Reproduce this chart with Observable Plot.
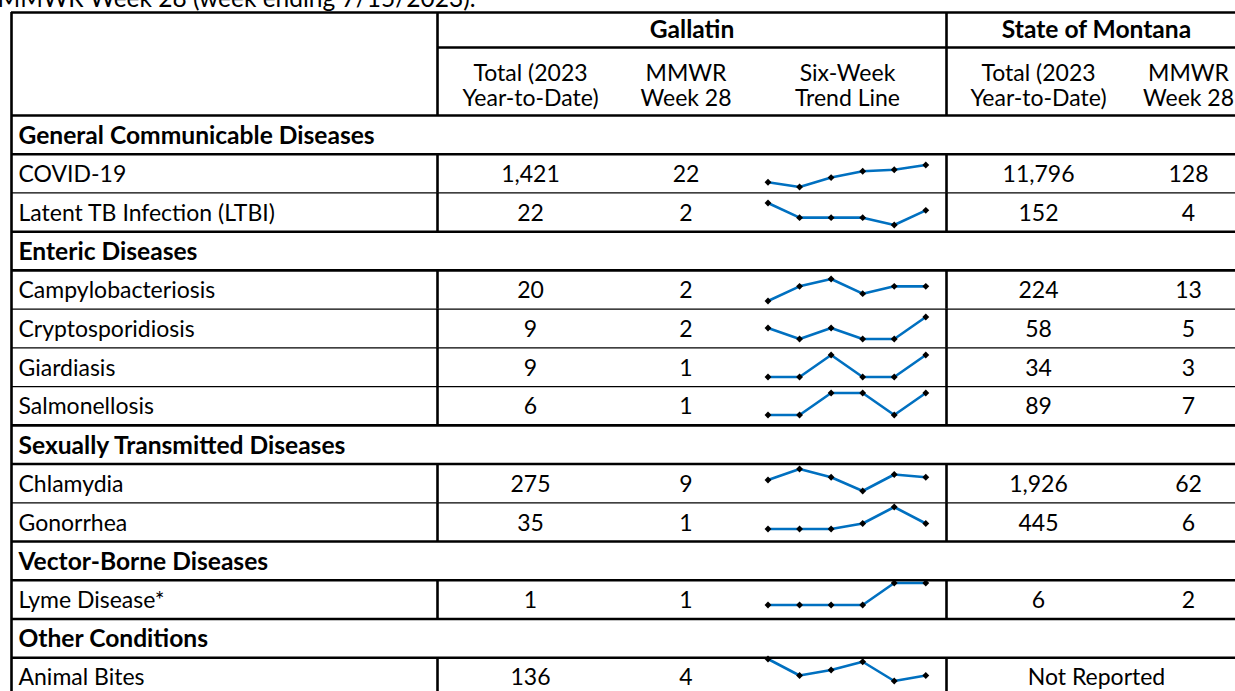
<!DOCTYPE html>
<html>
<head>
<meta charset="utf-8">
<script src="https://cdn.jsdelivr.net/npm/d3@7"></script>
<script src="https://cdn.jsdelivr.net/npm/@observablehq/plot@0.6"></script>
<style>
  html, body { margin: 0; padding: 0; background: #fff; overflow: hidden; }
  #wrap { position: relative; width: 1235px; height: 691px; overflow: hidden; background: #fff; }
  #wrap > svg { position: absolute; margin: 0; overflow: visible; }
</style>
</head>
<body>
<div id="wrap"></div>
<script>
// ---------------- DATA ----------------
const titleText = "MMWR Week 28 (week ending 7/15/2023).";
const regionHeaders = ["Gallatin", "State of Montana"];
const columnHeaders = [
  "Total (2023\nYear-to-Date)",
  "MMWR\nWeek 28",
  "Six-Week\nTrend Line",
  "Total (2023\nYear-to-Date)",
  "MMWR\nWeek 28"
];
const rowLabels = [
  "General Communicable Diseases",
  "COVID-19",
  "Latent TB Infection (LTBI)",
  "Enteric Diseases",
  "Campylobacteriosis",
  "Cryptosporidiosis",
  "Giardiasis",
  "Salmonellosis",
  "Sexually Transmitted Diseases",
  "Chlamydia",
  "Gonorrhea",
  "Vector-Borne Diseases",
  "Lyme Disease*",
  "Other Conditions",
  "Animal Bites"
];
const rowIsCategory = [true, false, false, true, false, false, false, false, true, false, false, true, false, true, false];
const gallatinTotal = [null, 1421, 22, null, 20, 9, 9, 6, null, 275, 35, null, 1, null, 136];
const gallatinWeek  = [null, 22, 2, null, 2, 2, 1, 1, null, 9, 1, null, 1, null, 4];
const montanaTotal  = [null, 11796, 152, null, 224, 58, 34, 89, null, 1926, 445, null, 6, null, null];
const montanaWeek   = [null, 128, 4, null, 13, 5, 3, 7, null, 62, 6, null, 2, null, null];
const montanaNotReported = [false, false, false, false, false, false, false, false, false, false, false, false, false, false, true];
const notReportedText = "Not Reported";

const trendWeeks = [23, 24, 25, 26, 27, 28];
const trendCOVID       = [11, 8, 14, 18, 19, 22];
const trendLTBI        = [3, 1, 1, 1, 0, 2];
const trendCampy       = [0, 2, 3, 1, 2, 2];
const trendCrypto      = [1, 0, 1, 0, 0, 2];
const trendGiardia     = [0, 0, 1, 0, 0, 1];
const trendSalmonella  = [0, 0, 1, 1, 0, 1];
const trendChlamydia   = [8, 12, 9, 4, 10, 9];
const trendGonorrhea   = [0, 0, 0, 1, 4, 1];
const trendLyme        = [0, 0, 0, 0, 1, 1];
const trendAnimalBites = [10, 4, 6, 9, 2, 4];
const trendByRow = {
  "COVID-19": trendCOVID,
  "Latent TB Infection (LTBI)": trendLTBI,
  "Campylobacteriosis": trendCampy,
  "Cryptosporidiosis": trendCrypto,
  "Giardiasis": trendGiardia,
  "Salmonellosis": trendSalmonella,
  "Chlamydia": trendChlamydia,
  "Gonorrhea": trendGonorrhea,
  "Lyme Disease*": trendLyme,
  "Animal Bites": trendAnimalBites
};

// ---------------- LAYOUT ----------------
const W = 1235, H = 691;
const FONT = "Lato, 'Open Sans', sans-serif";
const FS = 23;        // regular text
const FSB = 24.6;     // bold text (Calibri bold runs wider)
const FST = 24.5;     // title
const layout = {
  tableLeft: 11,
  colWidths: [426, 186, 125, 198, 184, 116],   // label, G total, G week, trend, MT total, MT week
  tableTop: 12,
  headerHeights: [35, 68],
  rowHeight: 38.73,
  labelPad: 7,
  thick: 2.6,
  thin: 1.3,
  titleX: -3,
  titleY: -1.6,
  sparkPadLeft: 19.5,
  sparkPadRight: 20.7,
  sparkInsetTop: 6.5,
  sparkInsetBottom: 9.5
};
const colEdges = [layout.tableLeft];
layout.colWidths.forEach(w => colEdges.push(colEdges[colEdges.length - 1] + w));
const colCenter = i => (colEdges[i] + colEdges[i + 1]) / 2;
const tableRight = colEdges[colEdges.length - 1];
const hdr0 = layout.tableTop;
const hdr1 = hdr0 + layout.headerHeights[0];
const bodyTop = hdr1 + layout.headerHeights[1];
const rowTop = i => bodyTop + i * layout.rowHeight;
const rowMid = i => rowTop(i) + layout.rowHeight / 2;
const bodyBottom = rowTop(rowLabels.length);
const fmt = d3.format(",");

// ---------------- GRID LINES ----------------
const hRules = [
  {y: hdr0, x1: layout.tableLeft, x2: tableRight, w: layout.thick},
  {y: hdr1, x1: colEdges[1], x2: tableRight, w: layout.thick},
  {y: bodyTop, x1: layout.tableLeft, x2: tableRight, w: layout.thick}
];
for (let k = 1; k <= rowLabels.length; k++) {
  const thick = rowIsCategory[k - 1] || rowIsCategory[k] || k === rowLabels.length;
  hRules.push({y: rowTop(k), x1: layout.tableLeft, x2: tableRight, w: thick ? layout.thick : layout.thin});
}
const vRules = [
  {x: layout.tableLeft, y1: hdr0, y2: bodyBottom},
  {x: tableRight, y1: hdr0, y2: bodyBottom},
  {x: colEdges[1], y1: hdr0, y2: bodyTop},
  {x: colEdges[4], y1: hdr0, y2: bodyTop}
];
rowLabels.forEach((r, i) => {
  if (!rowIsCategory[i]) {
    vRules.push({x: colEdges[1], y1: rowTop(i), y2: rowTop(i + 1)});
    vRules.push({x: colEdges[4], y1: rowTop(i), y2: rowTop(i + 1)});
  }
});

// ---------------- TEXT ----------------
const headerTexts = [
  {x: (colEdges[1] + colEdges[4]) / 2, y: (hdr0 + hdr1) / 2, text: regionHeaders[0]},
  {x: (colEdges[4] + colEdges[6]) / 2, y: (hdr0 + hdr1) / 2, text: regionHeaders[1]}
];
const subHeaderTexts = columnHeaders.map((t, j) => ({x: colCenter(j + 1), y: (hdr1 + bodyTop) / 2 + 4, text: t}));
const labelTexts = rowLabels.map((t, i) => ({x: layout.tableLeft + layout.labelPad, y: rowMid(i) + 1, text: t, bold: rowIsCategory[i]}));
const valueTexts = [];
rowLabels.forEach((r, i) => {
  [gallatinTotal, gallatinWeek, null, montanaTotal, montanaWeek].forEach((arr, j) => {
    if (arr && arr[i] != null) valueTexts.push({x: colCenter(j + 1), y: rowMid(i) + 1, text: fmt(arr[i])});
  });
  if (montanaNotReported[i]) valueTexts.push({x: (colEdges[4] + colEdges[6]) / 2, y: rowMid(i) + 1, text: notReportedText});
});

const table = Plot.plot({
  width: W, height: H, margin: 0,
  x: {type: "linear", domain: [0, W], range: [0, W], axis: null},
  y: {type: "linear", domain: [0, H], range: [0, H], axis: null},
  style: {fontFamily: FONT, background: "transparent", color: "black", overflow: "visible"},
  marks: [
    Plot.text([titleText], {x: () => layout.titleX, y: () => layout.titleY, text: d => d, textAnchor: "start", lineAnchor: "middle", fontSize: FST, fill: "black"}),
    Plot.ruleY(hRules.filter(d => d.w === layout.thin), {y: "y", x1: "x1", x2: "x2", stroke: "black", strokeWidth: layout.thin}),
    Plot.ruleY(hRules.filter(d => d.w === layout.thick), {y: "y", x1: "x1", x2: "x2", stroke: "black", strokeWidth: layout.thick}),
    Plot.ruleX(vRules, {x: "x", y1: "y1", y2: "y2", stroke: "black", strokeWidth: layout.thick}),
    Plot.text(headerTexts, {x: "x", y: "y", text: "text", fontSize: FSB, fontWeight: "bold", lineAnchor: "middle", fill: "black"}),
    Plot.text(subHeaderTexts, {x: "x", y: "y", text: "text", fontSize: FS, lineAnchor: "middle", lineHeight: 1.09, fill: "black"}),
    Plot.text(labelTexts.filter(d => d.bold), {x: "x", y: "y", text: "text", fontSize: FSB, fontWeight: "bold", textAnchor: "start", lineAnchor: "middle", fill: "black"}),
    Plot.text(labelTexts.filter(d => !d.bold), {x: "x", y: "y", text: "text", fontSize: FS, textAnchor: "start", lineAnchor: "middle", fill: "black"}),
    Plot.text(valueTexts, {x: "x", y: "y", text: "text", fontSize: FS, lineAnchor: "middle", fill: "black"})
  ]
});

// ---------------- SPARKLINES ----------------
const trendData = [];
Object.entries(trendByRow).forEach(([row, vals]) => {
  const [lo, hi] = d3.extent(vals);
  vals.forEach((v, k) => trendData.push({row, week: trendWeeks[k], value: v, norm: hi > lo ? (v - lo) / (hi - lo) : 0.5}));
});

const spark = Plot.plot({
  width: layout.colWidths[3],
  height: bodyBottom - bodyTop,
  marginLeft: layout.sparkPadLeft, marginRight: layout.sparkPadRight, marginTop: 0, marginBottom: 0,
  x: {domain: d3.extent(trendWeeks), axis: null},
  y: {domain: [0, 1], axis: null, insetTop: layout.sparkInsetTop, insetBottom: layout.sparkInsetBottom},
  fy: {domain: rowLabels, axis: null, padding: 0},
  facet: {data: trendData, y: "row"},
  style: {background: "transparent", overflow: "visible"},
  marks: [
    Plot.line(trendData, {x: "week", y: "norm", stroke: "#0070C0", strokeWidth: 2.6}),
    Plot.dot(trendData, {x: "week", y: "norm", symbol: "diamond2", r: 3.1, fill: "black", stroke: "none"})
  ]
});

const wrap = document.getElementById("wrap");
table.style.left = "0px"; table.style.top = "0px";
spark.style.left = colEdges[3] + "px"; spark.style.top = bodyTop + "px";
wrap.appendChild(table);
wrap.appendChild(spark);
</script>
</body>
</html>
